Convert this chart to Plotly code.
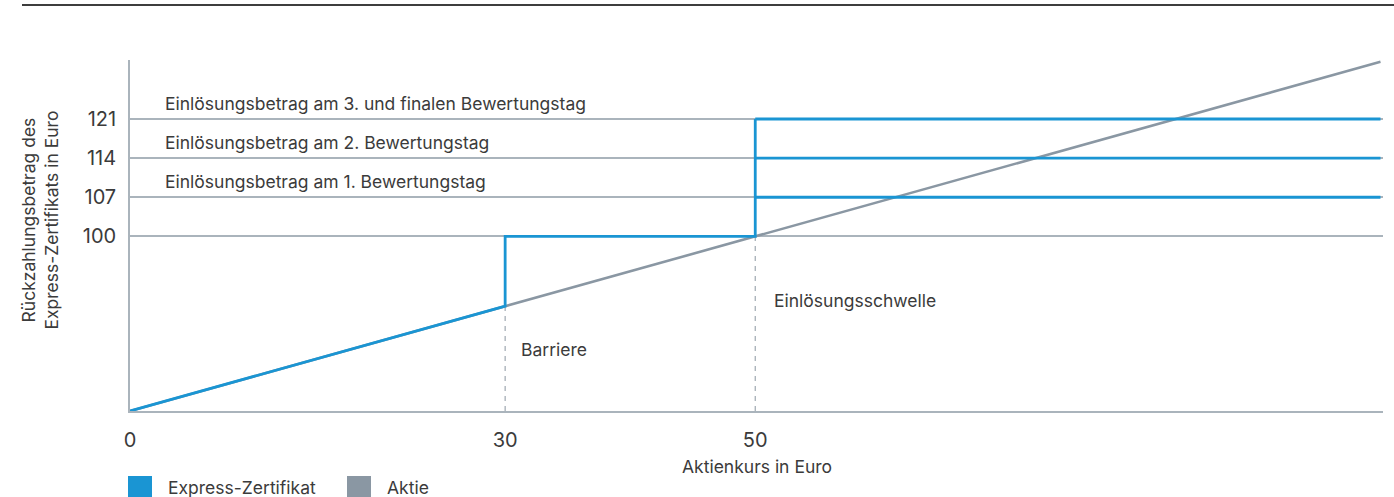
import plotly.graph_objects as go

# ---- data (schematic chart) ----
stock_prices = [0, 100]            # Aktienkurs in Euro (x extent)
stock_payout = [0, 200]            # schematic display units of the Aktie line
barrier = 30                       # Barriere (Euro)
barrier_level = 60                 # Aktie line value at barrier (display units)
threshold = 50                     # Einlösungsschwelle (Euro)
levels = [100, 107, 114, 121]      # Rückzahlungsbeträge in Euro
level_texts = [
    "Einlösungsbetrag am 1. Bewertungstag",
    "Einlösungsbetrag am 2. Bewertungstag",
    "Einlösungsbetrag am 3. und finalen Bewertungstag",
]
x_ticks = [0, 30, 50]
x_tick_labels = ["0", "30", "50"]


def level_pos(v):
    # schematic y axis: levels above 100 are stretched
    return 100 + (v - 100) * 3.2


level_y = [level_pos(v) for v in levels]

BLUE = "#1a95d3"
GREY = "#8a97a3"
AXIS = "#aab4bc"
TXT = "#3b3b3b"
FONT = "Inter"
FS = 17.5

fig = go.Figure()

# Aktie line
fig.add_trace(go.Scatter(x=stock_prices, y=stock_payout, mode="lines",
                         line=dict(color=GREY, width=2.6), showlegend=False,
                         hoverinfo="skip"))

# dashed verticals
fig.add_trace(go.Scatter(x=[barrier, barrier], y=[0, barrier_level], mode="lines",
                         line=dict(color="#9ea8b1", width=1.2, dash="5px,5px"),
                         showlegend=False, hoverinfo="skip"))
fig.add_trace(go.Scatter(x=[threshold, threshold], y=[0, level_y[0]], mode="lines",
                         line=dict(color="#9ea8b1", width=1.2, dash="5px,5px"),
                         showlegend=False, hoverinfo="skip"))

# Express-Zertifikat main path
fig.add_trace(go.Scatter(
    x=[0, barrier, barrier, threshold, threshold],
    y=[0, barrier_level, level_y[0], level_y[0], level_y[-1]],
    mode="lines", line=dict(color=BLUE, width=2.8), showlegend=False,
    hoverinfo="skip"))
# horizontal redemption levels beyond the threshold
for ly in level_y[1:]:
    fig.add_trace(go.Scatter(x=[threshold, stock_prices[-1]], y=[ly, ly], mode="lines",
                             line=dict(color=BLUE, width=2.8), showlegend=False,
                             hoverinfo="skip"))

annotations = []
for ly, txt in zip(level_y[1:], level_texts):
    annotations.append(dict(x=2.6, y=ly, xref="x", yref="y", text=txt,
                            showarrow=False, xanchor="left", yanchor="middle",
                            yshift=16, font=dict(family=FONT, size=FS, color=TXT)))
annotations.append(dict(x=barrier + 1.1, y=35, xref="x", yref="y", text="Barriere",
                        showarrow=False, xanchor="left", yanchor="middle",
                        font=dict(family=FONT, size=FS, color=TXT)))
annotations.append(dict(x=threshold + 1.3, y=63.5, xref="x", yref="y",
                        text="Einlösungsschwelle", showarrow=False,
                        xanchor="left", yanchor="middle",
                        font=dict(family=FONT, size=FS, color=TXT)))
# y axis title
annotations.append(dict(x=-0.072, y=0.545, xref="paper", yref="paper",
                        text="Rückzahlungsbetrag des<br>Express-Zertifikats in Euro",
                        textangle=-90, showarrow=False, xanchor="center",
                        yanchor="middle",
                        font=dict(family=FONT, size=FS, color=TXT)))
# x axis title
annotations.append(dict(x=0.5, y=-0.157, xref="paper", yref="paper",
                        text="Aktienkurs in Euro", showarrow=False,
                        xanchor="center", yanchor="middle",
                        font=dict(family=FONT, size=FS, color=TXT)))
# legend texts
annotations.append(dict(x=(166 - 130) / 1253, y=(411 - 487) / 351, xref="paper",
                        yref="paper", text="Express-Zertifikat", showarrow=False,
                        xanchor="left", yanchor="middle",
                        font=dict(family=FONT, size=FS, color=TXT)))
annotations.append(dict(x=(385 - 130) / 1253, y=(411 - 487) / 351, xref="paper",
                        yref="paper", text="Aktie", showarrow=False,
                        xanchor="left", yanchor="middle",
                        font=dict(family=FONT, size=FS, color=TXT)))

shapes = [
    # top rule
    dict(type="line", xref="paper", yref="paper",
         x0=(22 - 130) / 1253, x1=(1394 - 130) / 1253,
         y0=(411 - 5) / 351, y1=(411 - 5) / 351,
         line=dict(color="#3d3d3d", width=2.2)),
    # legend squares
    dict(type="rect", xref="paper", yref="paper",
         x0=(128 - 130) / 1253, x1=(152 - 130) / 1253,
         y0=(411 - 476) / 351, y1=(411 - 500) / 351,
         fillcolor=BLUE, line=dict(width=0)),
    dict(type="rect", xref="paper", yref="paper",
         x0=(347 - 130) / 1253, x1=(371 - 130) / 1253,
         y0=(411 - 476) / 351, y1=(411 - 500) / 351,
         fillcolor=GREY, line=dict(width=0)),
]

fig.update_layout(
    width=1394, height=497,
    margin=dict(l=130, r=11, t=60, b=86),
    paper_bgcolor="white", plot_bgcolor="white",
    font=dict(family=FONT, color=TXT),
    showlegend=False,
    annotations=annotations,
    shapes=shapes,
)
fig.update_xaxes(range=[0, 100.2], tickvals=x_ticks, ticktext=x_tick_labels,
                 showgrid=False, zeroline=False, showline=True,
                 linecolor=AXIS, linewidth=1.6,
                 ticks="outside", ticklen=10, tickcolor="rgba(0,0,0,0)",
                 tickfont=dict(family=FONT, size=20, color=TXT))
fig.update_yaxes(range=[0, 201], tickvals=level_y, ticktext=[str(v) for v in levels],
                 showgrid=True, gridcolor=AXIS, gridwidth=1.5, zeroline=False,
                 showline=True, linecolor=AXIS, linewidth=1.6,
                 ticks="outside", ticklen=8, tickcolor="rgba(0,0,0,0)",
                 tickfont=dict(family=FONT, size=20, color=TXT))

fig.write_html(
    "out.html",
    config={"displayModeBar": False},
    post_script=("document.body.style.margin='0';"
                 "document.body.style.overflow='hidden';"
                 "document.documentElement.style.overflow='hidden';"
                 "var d=document.getElementById('{plot_id}');"
                 "d.style.position='fixed';d.style.left='0px';d.style.top='0px';"),
)
